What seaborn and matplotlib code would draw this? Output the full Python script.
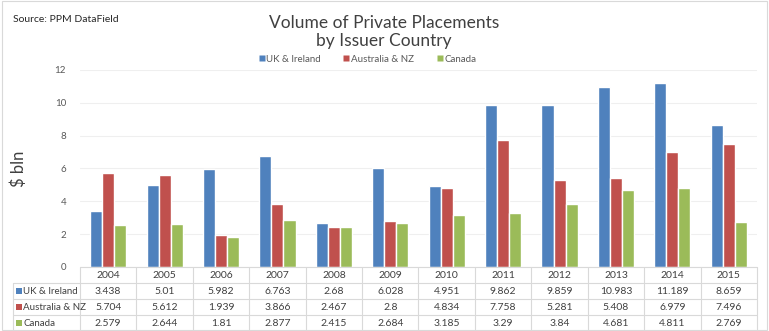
import matplotlib
matplotlib.use("Agg")
import matplotlib.pyplot as plt
import seaborn as sns
import pandas as pd
from matplotlib.patches import Rectangle
from matplotlib.lines import Line2D

years = ["2004", "2005", "2006", "2007", "2008", "2009", "2010", "2011", "2012", "2013", "2014", "2015"]
series_names = ["UK & Ireland", "Australia & NZ", "Canada"]
uk_ireland = [3.438, 5.01, 5.982, 6.763, 2.68, 6.028, 4.951, 9.862, 9.859, 10.983, 11.189, 8.659]
australia_nz = [5.704, 5.612, 1.939, 3.866, 2.467, 2.8, 4.834, 7.758, 5.281, 5.408, 6.979, 7.496]
canada = [2.579, 2.644, 1.81, 2.877, 2.415, 2.684, 3.185, 3.29, 3.84, 4.681, 4.811, 2.769]
colors = ["#4F81BD", "#C0504D", "#9BBB59"]

values = [uk_ireland, australia_nz, canada]
rows = []
for name, vals in zip(series_names, values):
    for y, v in zip(years, vals):
        rows.append({"Year": y, "Series": name, "Value": v})
df = pd.DataFrame(rows)

sns.set_theme(style="white")
plt.rcParams["font.family"] = ["Lato", "DejaVu Sans"]

fig = plt.figure(figsize=(7.69, 3.31), dpi=100)
ax = fig.add_axes([80 / 769, 1 - 267 / 331, (757 - 80) / 769, (267 - 70) / 331])

sns.barplot(data=df, x="Year", y="Value", hue="Series", order=years, hue_order=series_names,
            palette=colors, width=0.64, edgecolor="white", linewidth=1, saturation=1,
            ax=ax, legend=False)

ax.set_ylim(0, 12)
ax.set_xlim(-0.5, len(years) - 0.5)
ax.set_yticks(range(0, 13, 2))
ax.yaxis.grid(True, color="#EFEFEF", linewidth=0.8)
ax.set_axisbelow(True)
for s in ax.spines.values():
    s.set_visible(False)
ax.tick_params(axis="y", labelsize=7, colors="#595959", length=0, pad=10)
ax.set_xticks([])
ax.set_xlabel("")
ax.set_ylabel(r"\$ bln", fontsize=12, color="#404040", labelpad=20)

# data table below the axes
row_h = 16 / 197
left_x = (13 - 80) / 677  # axes fraction
tr = ax.get_xaxis_transform()
tra = ax.transAxes
line_kw = dict(color="#D9D9D9", linewidth=0.8, clip_on=False)
ax.plot([-0.5, len(years) - 0.5], [0, 0], transform=tr, **line_kw)
for i in range(1, 5):
    ax.plot([left_x, 1], [-row_h * i, -row_h * i], transform=tra, **line_kw)
for k in range(len(years) + 1):
    ax.plot([k - 0.5, k - 0.5], [0, -row_h * 4], transform=tr, **line_kw)
ax.plot([left_x, left_x], [-row_h, -row_h * 4], transform=tra, **line_kw)

txt_kw = dict(fontsize=7.5, color="#404040", va="center", ha="center", clip_on=False)
for j, y in enumerate(years):
    ax.text(j, -row_h * 0.5, y, transform=tr, **txt_kw)
for i, (name, vals, c) in enumerate(zip(series_names, values, colors)):
    yc = -row_h * (i + 1.5)
    for j, v in enumerate(vals):
        ax.text(j, yc, f"{v:g}", transform=tr, **txt_kw)
    ax.add_patch(Rectangle((left_x + 3 / 677, yc - 3 / 197), 6 / 677, 6 / 197, transform=tra,
                           facecolor=c, edgecolor="none", clip_on=False))
    ax.text(left_x + 10 / 677, yc, name, transform=tra, fontsize=7, color="#404040",
            va="center", ha="left", clip_on=False)

# legend
handles = [Line2D([], [], marker="s", linestyle="none", markersize=5, markerfacecolor=c,
                  markeredgecolor="none") for c in colors]
fig.legend(handles, series_names, loc="center", bbox_to_anchor=(367 / 769, 1 - 59 / 331), ncol=3,
           frameon=False, fontsize=7, handletextpad=0.1, columnspacing=2.2, labelcolor="#595959",
           handlelength=0.8)

fig.text(384 / 769, 1 - 32 / 331, "Volume of Private Placements\nby Issuer Country", ha="center",
         va="center", fontsize=12.5, color="#404040", linespacing=1.15)
fig.text(13 / 769, 1 - 20 / 331, "Source: PPM DataField", ha="left", va="center", fontsize=7.5,
         color="#262626")

fig.patches.append(Rectangle((0.002, 0.003), 0.996, 0.994, transform=fig.transFigure, fill=False,
                             edgecolor="#D9D9D9", linewidth=0.8))

fig.savefig("out.png", dpi=100)
